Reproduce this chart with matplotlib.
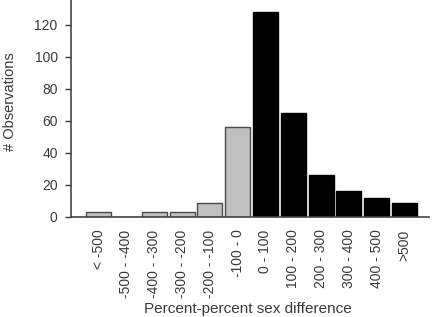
import matplotlib
matplotlib.use("Agg")
import matplotlib.pyplot as plt

categories = ["< -500", "-500 - -400", "-400 - -300", "-300 - -200", "-200 - -100",
              "-100 - 0", "0 - 100", "100 - 200", "200 - 300", "300 - 400",
              "400 - 500", ">500"]
counts = [3, 0, 3, 3, 9, 56, 128, 65, 26, 16, 12, 9]
negative = [True, True, True, True, True, True, False, False, False, False, False, False]
yticks = [0, 20, 40, 60, 80, 100, 120]

plt.rcParams['font.family'] = ['Liberation Sans', 'DejaVu Sans']
fig = plt.figure(figsize=(4.35, 3.17), dpi=100)
ax = fig.add_axes([0.163, 0.3155, 0.823, 0.6845])

x = list(range(len(categories)))
face = ['#c0c0c0' if n else '#000000' for n in negative]
edge = ['#4a4a4a' if n else '#000000' for n in negative]
ax.bar(x, counts, width=0.9, color=face, edgecolor=edge, linewidth=1.0)

txt = '#3a3a3a'
ax.set_xlim(-1.0, 11.88)
ax.set_ylim(0, 135.6)
ax.set_yticks(yticks)
ax.set_xticks(x)
ax.set_xticklabels(categories, rotation=90, fontsize=10, color=txt)
ax.tick_params(axis='x', length=0, pad=9)
ax.tick_params(axis='y', length=4.5, width=1, direction='out', labelsize=10,
               colors=txt, pad=5)
for s in ['top', 'right']:
    ax.spines[s].set_visible(False)
for s in ['left', 'bottom']:
    ax.spines[s].set_color('#444444')
    ax.spines[s].set_linewidth(1.2)

fig.text(0.023, 0.68, '# Observations', rotation=90, ha='center', va='center',
         fontsize=10.5, color=txt)
fig.text(0.569, 0.025, 'Percent-percent sex difference', ha='center', va='center',
         fontsize=11, color=txt)

fig.savefig('out.png', dpi=100)
